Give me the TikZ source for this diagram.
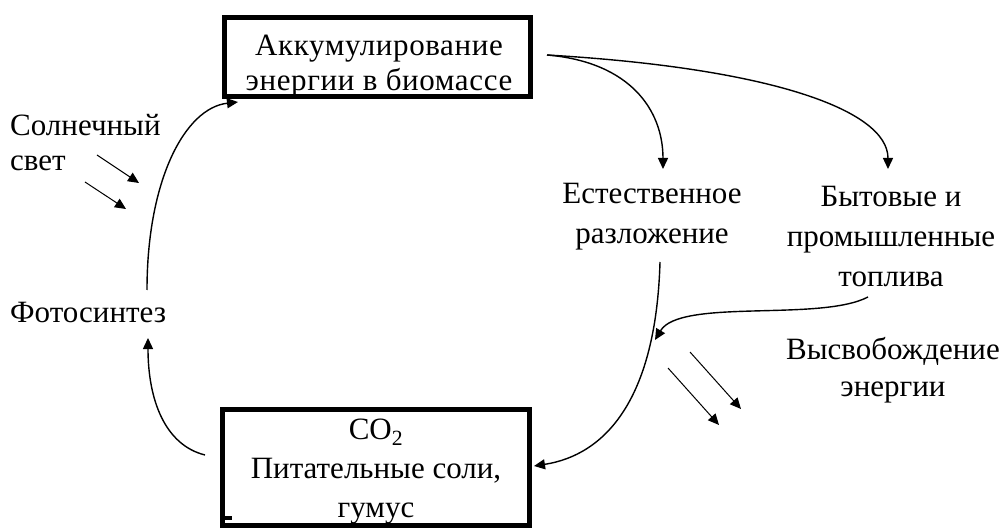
\documentclass[tikz,border=0pt]{standalone}
\usepackage{fontspec}
\setmainfont{Liberation Serif}
\newfontfamily\widefont[LetterSpace=2]{Liberation Serif}
\usetikzlibrary{arrows.meta}
\begin{document}
\begin{tikzpicture}[x=1pt,y=-1pt,
  txt/.style={font=\fontsize{31}{40}\selectfont, align=center, inner sep=0pt},
  boxnode/.style={draw, line width=5pt, inner sep=0pt},
  conn/.style={line width=1.4pt, -{Triangle[length=11pt,width=10pt]}},
  ray/.style={line width=1pt, -{Triangle[length=11pt,width=10pt]}}]
\useasboundingbox (0,0) rectangle (1004,529);
% boxes
\node[boxnode, minimum width=306pt, minimum height=79pt] (top) at (377.5,57) {};
\node[txt, font=\widefont\fontsize{31}{35}\selectfont] (topt) at (379,66) {Аккумулирование\\энергии в биомассе};
\node[boxnode, minimum width=307pt, minimum height=116pt] (bot) at (376,467.5) {};
\node[txt, font=\fontsize{31}{39}\selectfont] (bott) at (376,472) {CO\textsubscript{2}\\Питательные соли,\\гумус};
\fill (224,516) rectangle (232,520);
% texts
\node[txt, anchor=west, align=left, font=\fontsize{31}{35}\selectfont] (sol) at (10,142.5) {Солнечный\\свет};
\node[txt, anchor=west] (foto) at (10,313) {Фотосинтез};
\node[txt] (est) at (652,217) {Естественное\\разложение};
\node[txt] (byt) at (891,237) {Бытовые и\\промышленные\\топлива};
\node[txt, font=\fontsize{31}{37}\selectfont] (vys) at (893,370) {Высвобождение\\энергии};
% free ends
\coordinate (b1) at (205,455);
\coordinate (f1) at (148,338);
\coordinate (f2) at (147,290);
\coordinate (t1) at (238,102);
\coordinate (tr) at (547,55);
\coordinate (e1) at (663,169);
\coordinate (y1) at (888,169);
\coordinate (e2) at (660,262);
\coordinate (b2) at (534,466);
\coordinate (y2) at (868,297);
\coordinate (m1) at (655,340);
% connectors
\draw[conn] (b1) .. controls (165,445) and (148,400) .. (f1);
\draw[conn] (f2) .. controls (147,180) and (185,108) .. (t1);
\draw[conn] (tr) .. controls (630,62) and (663,110) .. (e1);
\draw[conn] (tr) .. controls (770,68) and (888,110) .. (y1);
\draw[conn] (e2) .. controls (656,400) and (605,455) .. (b2);
\draw[conn] (y2) .. controls (820,322) and (680,298) .. (m1);
% rays
\coordinate (r1a) at (97,155); \coordinate (r1b) at (139,183);
\coordinate (r2a) at (85,182); \coordinate (r2b) at (126,209);
\draw[ray] (r1a) -- (r1b);
\draw[ray] (r2a) -- (r2b);
\coordinate (r3a) at (690,352); \coordinate (r3b) at (741,409);
\coordinate (r4a) at (668,368); \coordinate (r4b) at (719,425);
\draw[ray] (r3a) -- (r3b);
\draw[ray] (r4a) -- (r4b);
\end{tikzpicture}
\end{document}
